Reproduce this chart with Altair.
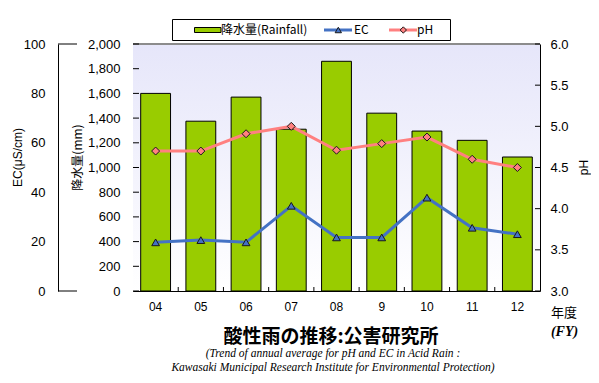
import altair as alt
import pandas as pd

# ---- data ----
years = ["04", "05", "06", "07", "08", "9", "10", "11", "12"]
rainfall = [1600, 1375, 1570, 1310, 1860, 1440, 1295, 1220, 1085]
ec = [19.7, 20.6, 19.7, 34.5, 21.7, 21.7, 37.8, 25.6, 23.0]
ph = [4.70, 4.70, 4.91, 5.00, 4.71, 4.79, 4.87, 4.60, 4.50]

rain_ticks = [0, 200, 400, 600, 800, 1000, 1200, 1400, 1600, 1800, 2000]
ec_ticks = [0, 20, 40, 60, 80, 100]
ph_ticks = [3.0, 3.5, 4.0, 4.5, 5.0, 5.5, 6.0]

legend_labels = ["降水量(Rainfall)", "EC", "pH"]
title_text = "酸性雨の推移:公害研究所"
subtitle_lines = ["(Trend of annual average for pH and EC in Acid Rain :",
                  "Kawasaki Municipal  Research Institute  for Environmental Protection)"]
fy_lines = ["年度", "(FY)"]

W, H = 407, 247
GREEN = "#99CC00"
BLUE = "#4472C4"
PINK = "#FF8080"
LAB_FONT = "Liberation Sans"
JP_FONT = "Noto Sans CJK JP"
P_IN, P_OUT = 0.34, 0.17

df = pd.DataFrame({"year": years, "rain": rainfall, "ec": ec, "ph": ph})

x_axis = alt.Axis(title=None, labelAngle=0, ticks=False, domainColor="black",
                  labelFont=LAB_FONT, labelFontSize=12, labelColor="black",
                  labelPadding=10, grid=False)
xscale = alt.Scale(paddingInner=P_IN, paddingOuter=P_OUT)
xenc = alt.X("year:N", sort=years, scale=xscale, axis=x_axis)

rain_scale = alt.Scale(domain=[0, 2000], nice=False)
ec_scale = alt.Scale(domain=[0, 100], nice=False)
ph_scale = alt.Scale(domain=[3, 6], nice=False)

one = pd.DataFrame({"a": [0]})

# plot background gradient
bg = alt.Chart(one).mark_rect(
    color=alt.Gradient(gradient="linear",
                       stops=[alt.GradientStop(color="#E6E6FA", offset=0),
                              alt.GradientStop(color="#FFFFFF", offset=1)],
                       x1=0, x2=0, y1=0, y2=1)
).encode(x=alt.value(0), x2=alt.value(W), y=alt.value(0), y2=alt.value(H))

top_border = alt.Chart(one).mark_rule(color="#8C8C8C", strokeWidth=2).encode(
    x=alt.value(0), x2=alt.value(W), y=alt.value(0))

bars = alt.Chart(df).mark_bar(color=GREEN, stroke="black", strokeWidth=1).encode(
    x=xenc,
    y=alt.Y("rain:Q", scale=rain_scale,
            axis=alt.Axis(orient="left", values=rain_ticks, format=",d", ticks=False,
                          grid=False, domainColor="black", labelFont=LAB_FONT,
                          labelFontSize=13, labelColor="black", labelPadding=13,
                          title="降水量(mm)", titleFont=JP_FONT, titleFontSize=12,
                          titleFontWeight="normal", titleColor="black",
                          titleAngle=270, titleAlign="center", titleBaseline="middle",
                          titleX=-56, titleY=113)))

ec_line = alt.Chart(df).mark_line(color=BLUE, strokeWidth=3).encode(
    x=xenc,
    y=alt.Y("ec:Q", scale=ec_scale,
            axis=alt.Axis(orient="left", offset=75, values=ec_ticks, ticks=False,
                          grid=False, domainColor="black", labelFont=LAB_FONT,
                          labelFontSize=13, labelColor="black", labelPadding=13,
                          title="EC(μS/cm)", titleFont=LAB_FONT, titleFontSize=12,
                          titleFontWeight="normal", titleColor="black",
                          titleAngle=270, titleAlign="center", titleBaseline="middle",
                          titleX=-41, titleY=113)))
ec_pts = alt.Chart(df).mark_point(shape="triangle-up", filled=True, fill=BLUE,
                                  stroke="#1a1a1a", strokeWidth=1, size=60,
                                  opacity=1).encode(
    x=xenc, y=alt.Y("ec:Q", scale=ec_scale, axis=None))

ph_line = alt.Chart(df).mark_line(color=PINK, strokeWidth=3).encode(
    x=xenc,
    y=alt.Y("ph:Q", scale=ph_scale,
            axis=alt.Axis(orient="right", values=ph_ticks, format=".1f", ticks=False,
                          grid=False, domainColor="black", labelFont=LAB_FONT,
                          labelFontSize=13, labelColor="black", labelPadding=10,
                          title="pH", titleFont=LAB_FONT, titleFontSize=12,
                          titleFontWeight="normal", titleColor="black",
                          titleAngle=270, titleAlign="center", titleBaseline="middle",
                          titleX=43, titleY=123)))
ph_pts = alt.Chart(df).mark_point(shape="diamond", filled=True, fill=PINK,
                                  stroke="#1a1a1a", strokeWidth=1, size=64,
                                  opacity=1).encode(
    x=xenc, y=alt.Y("ph:Q", scale=ph_scale, axis=None))

# inward tick marks
rain_tk = alt.Chart(pd.DataFrame({"v": rain_ticks})).mark_rule(color="black").encode(
    y=alt.Y("v:Q", scale=rain_scale, axis=None), x=alt.value(0), x2=alt.value(6))
ph_tk = alt.Chart(pd.DataFrame({"v": ph_ticks})).mark_rule(color="black").encode(
    y=alt.Y("v:Q", scale=ph_scale, axis=None), x=alt.value(W - 5), x2=alt.value(W))
ec_caps = alt.Chart(pd.DataFrame({"v": [ec_ticks[0], ec_ticks[-1]]})).mark_rule(
    color="black").encode(
    y=alt.Y("v:Q", scale=ec_scale, axis=None), x=alt.value(-75), x2=alt.value(-56))
step = W / (len(years) - P_IN + 2 * P_OUT)
x_tk = alt.Chart(pd.DataFrame({"year": years[:-1]})).mark_rule(
    color="black", xOffset=step * P_IN / 2).encode(
    x=alt.X("year:N", sort=years, bandPosition=1, scale=xscale, axis=x_axis),
    y=alt.value(H - 4), y2=alt.value(H))

# legend (decoration)
leg_box = alt.Chart(one).mark_rect(fill="white", stroke="black", strokeWidth=1).encode(
    x=alt.value(39.5), x2=alt.value(317.5), y=alt.value(-24.5), y2=alt.value(-3.5))
leg_bar = alt.Chart(one).mark_rect(fill=GREEN, stroke="black", strokeWidth=1).encode(
    x=alt.value(61.5), x2=alt.value(88), y=alt.value(-16.5), y2=alt.value(-11.5))
leg_ec_line = alt.Chart(one).mark_rule(color=BLUE, strokeWidth=3).encode(
    x=alt.value(191), x2=alt.value(219), y=alt.value(-14))
leg_ec_pt = alt.Chart(one).mark_point(shape="triangle-up", filled=True, fill=BLUE,
                                      stroke="#1a1a1a", strokeWidth=1, size=40,
                                      opacity=1).encode(
    x=alt.value(205.3), y=alt.value(-14))
leg_ph_line = alt.Chart(one).mark_rule(color=PINK, strokeWidth=3).encode(
    x=alt.value(256), x2=alt.value(284), y=alt.value(-14))
leg_ph_pt = alt.Chart(one).mark_point(shape="diamond", filled=True, fill=PINK,
                                      stroke="#1a1a1a", strokeWidth=1, size=40,
                                      opacity=1).encode(
    x=alt.value(270.3), y=alt.value(-14))
leg_txt = alt.Chart(pd.DataFrame({"t": legend_labels, "px": [88, 221, 284]})).mark_text(
    align="left", baseline="middle", font=JP_FONT, fontSize=12, color="black").encode(
    text="t:N", x=alt.X("px:Q", scale=None), y=alt.value(-14))

# titles
title = alt.Chart(pd.DataFrame({"t": [title_text]})).mark_text(
    align="center", baseline="middle", font=JP_FONT, fontSize=19, fontWeight="bold",
    color="black").encode(text="t:N", x=alt.value(198), y=alt.value(293))
sub = alt.Chart(pd.DataFrame({"t": subtitle_lines, "py": [310, 324]})).mark_text(
    align="center", baseline="middle", font="Liberation Serif", fontSize=11.5,
    fontStyle="italic", color="black").encode(
    text="t:N", x=alt.value(200), y=alt.Y("py:Q", scale=None))
fy1 = alt.Chart(pd.DataFrame({"t": [fy_lines[0]]})).mark_text(
    align="center", baseline="middle", font=JP_FONT, fontSize=13, color="black").encode(
    text="t:N", x=alt.value(431), y=alt.value(269))
fy2 = alt.Chart(pd.DataFrame({"t": [fy_lines[1]]})).mark_text(
    align="center", baseline="middle", font="Liberation Serif", fontSize=14,
    fontStyle="italic", fontWeight="bold", color="black").encode(
    text="t:N", x=alt.value(431.5), y=alt.value(288))

chart = alt.layer(
    bg, top_border, bars, x_tk, rain_tk, ph_tk, ec_caps,
    ec_line, ec_pts, ph_line, ph_pts,
    leg_box, leg_bar, leg_ec_line, leg_ec_pt, leg_ph_line, leg_ph_pt, leg_txt,
    title, sub, fy1, fy2
).resolve_scale(y="independent").properties(
    width=W, height=H,
    autosize=alt.AutoSizeParams(type="none"),
    padding={"left": 125, "top": 36, "right": 51, "bottom": 84},
).configure_view(stroke=None).configure(background="white")

chart.save("out.html", embed_options={"renderer": "svg", "actions": False})
